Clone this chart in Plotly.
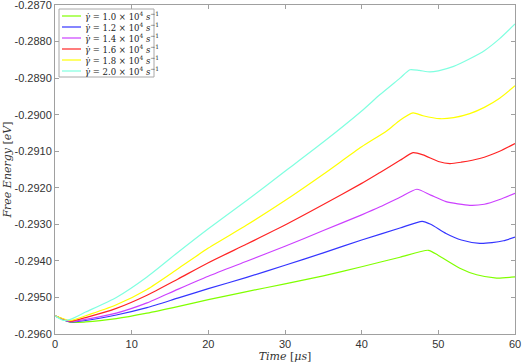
import plotly.graph_objects as go

# time axis [us] and free energy [eV], one curve per shear rate
rates = ["1.0", "1.2", "1.4", "1.6", "1.8", "2.0"]
colors = ["#80ff00", "#3535ff", "#cc40ff", "#ff2424", "#ffff00", "#80ffe0"]

t_10 = [0, 2, 4, 8, 12, 16, 20, 25, 30, 35, 40, 45, 48.7, 50, 52.8, 55, 57.6, 60]
e_10 = [-0.29550, -0.29568, -0.29567, -0.29558, -0.29543, -0.29525, -0.29506, -0.29484,
        -0.29463, -0.29441, -0.29416, -0.29390, -0.29371, -0.29385, -0.29420,
        -0.29438, -0.29447, -0.29444]

t_12 = [0, 2, 4, 8, 12, 16, 20, 25, 30, 35, 40, 45, 47.9, 49, 51, 53, 55.4, 57, 58.5, 60]
e_12 = [-0.29550, -0.29567, -0.29563, -0.29548, -0.29528, -0.29502, -0.29476, -0.29445,
        -0.29412, -0.29378, -0.29343, -0.29310, -0.29292, -0.29300, -0.29325, -0.29343,
        -0.29352, -0.29350, -0.29345, -0.29335]

t_14 = [0, 2, 4, 8, 12, 16, 20, 25, 30, 35, 40, 42.4, 45, 47.2, 49, 51, 54.1, 56, 58, 60]
e_14 = [-0.29550, -0.29566, -0.29560, -0.29543, -0.29515, -0.29478, -0.29442, -0.29401,
        -0.29360, -0.29317, -0.29274, -0.29252, -0.29226, -0.29204, -0.29220, -0.29238,
        -0.29248, -0.29245, -0.29232, -0.29215]

t_16 = [0, 2, 4, 8, 12, 16, 20, 25, 30, 35, 40, 42.4, 45, 46.7, 48, 50, 51.5, 53,
        55.4, 58, 60]
e_16 = [-0.29550, -0.29565, -0.29555, -0.29530, -0.29494, -0.29450, -0.29405, -0.29354,
        -0.29302, -0.29246, -0.29188, -0.29158, -0.29125, -0.29104, -0.29110,
        -0.29128, -0.29134, -0.29130, -0.29120, -0.29100, -0.29079]

t_18 = [0, 2, 4, 8, 12, 16, 20, 25, 30, 35, 40, 43.3, 45, 46.7, 48, 50.2, 52, 54.1,
        56, 58, 60]
e_18 = [-0.29550, -0.29563, -0.29550, -0.29520, -0.29478, -0.29422, -0.29365, -0.29302,
        -0.29235, -0.29163, -0.29088, -0.29044, -0.29015, -0.28995, -0.29003,
        -0.29011, -0.29008, -0.28997, -0.28980, -0.28955, -0.28921]

t_20 = [0, 1, 2, 4, 8, 12, 16, 20, 25, 30, 35, 40, 42.4, 45, 46.3, 47.5, 48.9, 50, 52,
        54.1, 56, 58, 60]
e_20 = [-0.29550, -0.29562, -0.29560, -0.29540, -0.29500, -0.29444, -0.29377, -0.29312,
        -0.29235, -0.29155, -0.29075, -0.28990, -0.28945, -0.28900, -0.28877, -0.28879,
        -0.28883, -0.28880, -0.28868, -0.28847, -0.28825, -0.28792, -0.28752]

times = [t_10, t_12, t_14, t_16, t_18, t_20]
energies = [e_10, e_12, e_14, e_16, e_18, e_20]

x_ticks = [0, 10, 20, 30, 40, 50, 60]
y_ticks = [-0.2960, -0.2950, -0.2940, -0.2930, -0.2920, -0.2910, -0.2900, -0.2890,
           -0.2880, -0.2870]
y_ticktext = ["%.4f" % v for v in y_ticks]

fig = go.Figure()
for r, c, tt, ee in zip(rates, colors, times, energies):
    fig.add_trace(go.Scatter(x=tt, y=ee, mode="lines",
                             line=dict(color=c, width=1.2, shape="spline", smoothing=0.6),
                             name=r, showlegend=False))

# hand-made legend (plotly's entries are too tall for this box)
L, T = 55, 5
W, H = 460, 329
def px(x):
    return (x - L) / W
def py(y):
    return 1 - (y - T) / H

fig.add_shape(type="rect", xref="paper", yref="paper", x0=px(59), x1=px(154), y0=py(9), y1=py(77),
              line=dict(color="#a8a8a8", width=1), fillcolor="white")
for i, (r, c) in enumerate(zip(rates, colors)):
    yy = py(16 + i * 11)
    fig.add_shape(type="line", xref="paper", yref="paper", x0=px(62), x1=px(81), y0=yy, y1=yy,
                  line=dict(color=c, width=1.2))
    fig.add_annotation(xref="paper", yref="paper", x=px(83), y=yy, xanchor="left", yanchor="middle",
                       showarrow=False,
                       text="<i>γ̇</i> = %s × 10<sup>4</sup> <i>s</i><sup>−1</sup>" % r,
                       font=dict(family="DejaVu Serif", size=8.5, color="#222"))

axis_style = dict(showline=True, linecolor="#a0a0a0", linewidth=1, mirror="ticks",
                  ticks="inside", ticklen=4, tickcolor="#a0a0a0", showgrid=False, zeroline=False,
                  automargin=False, ticklabeloverflow="allow",
                  tickfont=dict(family="Liberation Sans", size=11, color="#333"))

fig.update_xaxes(range=[0, 60], tickvals=x_ticks, **axis_style,
                 title=dict(text="<i>Time</i> [<i>μs</i>]", standoff=2,
                            font=dict(family="DejaVu Serif", size=11, color="#333")))
fig.update_yaxes(range=[-0.2960, -0.2870], tickvals=y_ticks, ticktext=y_ticktext, **axis_style,
                 title=dict(text="<i>Free Energy</i> [<i>eV</i>]", standoff=0,
                            font=dict(family="DejaVu Serif", size=11, color="#333")))

fig.update_layout(width=522, height=364, margin=dict(l=L, r=7, t=T, b=30),
                  paper_bgcolor="white", plot_bgcolor="white")

# drop the browser's default body margin so the figure sits at the window corner
fig.write_html("out.html", config={"displayModeBar": False},
               post_script="document.body.style.margin='0px';")
